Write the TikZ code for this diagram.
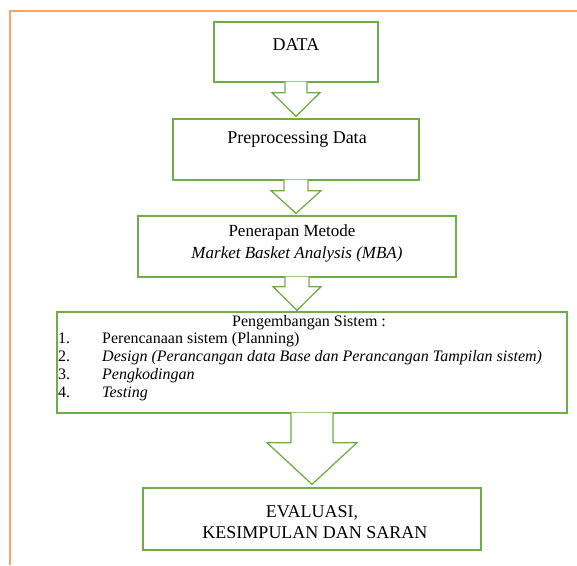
\documentclass[tikz,border=0pt]{standalone}
\usepackage{fontspec}
\setmainfont{Liberation Serif}
\usetikzlibrary{calc}
\definecolor{boxgreen}{RGB}{112,173,71}
\definecolor{frameorange}{RGB}{247,165,100}

\begin{document}
\begin{tikzpicture}[x=1pt,y=-1pt]

     \tikzstyle{box}=[rectangle,draw=boxgreen,line width=1.3pt,inner sep=0pt]
     \tikzstyle{txt}=[inner sep=0pt,anchor=base,font=\fontsize{18}{21}\selectfont]
     \tikzstyle{listtxt}=[inner sep=0pt,anchor=base west,font=\fontsize{16}{18}\selectfont]
     \tikzstyle{blk}=[draw=boxgreen,fill=white,line width=1.3pt,line join=miter]

     \useasboundingbox (0,0) rectangle (577,565);
     \draw[frameorange,line width=2pt] (10,565) -- (10,11) -- (577,11);

      \begin{scope}
         \node[box,minimum width=164pt,minimum height=60pt] (b1) at (296,52) {};
         \node[box,minimum width=246pt,minimum height=61pt] (b2) at (296,149.5) {};
         \node[box,minimum width=318pt,minimum height=61pt] (b3) at (297,246.5) {};
         \node[box,minimum width=510pt,minimum height=101pt] (b4) at (312,362.5) {};
         \node[box,minimum width=338pt,minimum height=62pt] (b5) at (312,519) {};

         \node[txt] (t1) at (296,50) {DATA};
         \node[txt] (t2) at (297,143) {Preprocessing Data};
         \node[txt,font=\fontsize{17}{21}\selectfont] (t3a) at (292,236) {Penerapan Metode};
         \node[txt,font=\fontsize{17}{21}\selectfont] (t3b) at (297,258) {\textit{Market Basket Analysis (MBA)}};
         \node[txt,font=\fontsize{16}{18}\selectfont] (t4) at (309,326) {Pengembangan Sistem :};
         \node[txt] (t5a) at (312,517) {EVALUASI,};
         \node[txt] (t5b) at (315,538) {KESIMPULAN DAN SARAN};

         \foreach \n/\s in {1/{Perencanaan sistem (Planning)},
                            2/{\textit{Design (Perancangan data Base dan Perancangan Tampilan sistem)}},
                            3/{\textit{Pengkodingan}},
                            4/{\textit{Testing}}} {
            \node[listtxt] (n\n) at (58,{324.7+18.3*\n}) {\n.};
            \node[listtxt] (i\n) at (102,{324.7+18.3*\n}) {\s};
         }

         % block arrows between the boxes
         \filldraw[blk] ($(b1.south)+(-11,-1)$) -- ++(0,11) -- ++(-13,0) -- ($(b1.south |- b2.north)+(0,-2)$)
            -- ($(b1.south)+(24,10)$) -- ($(b1.south)+(11,10)$) -- ($(b1.south)+(11,-1)$);
         \filldraw[blk] ($(b2.south)+(-12,-1)$) -- ++(0,11) -- ++(-13,0) -- ($(b2.south |- b3.north)+(0,-2)$)
            -- ($(b2.south)+(25,10)$) -- ($(b2.south)+(12,10)$) -- ($(b2.south)+(12,-1)$);
         \filldraw[blk] ($(b3.south)+(-12,-1)$) -- ++(0,10) -- ++(-12,0) -- ($(b3.south |- b4.north)+(0,-1)$)
            -- ($(b3.south)+(24,9)$) -- ($(b3.south)+(12,9)$) -- ($(b3.south)+(12,-1)$);
         \filldraw[blk] ($(b4.south)+(-21,-1)$) -- ++(0,30) -- ++(-24,0) -- ($(b4.south |- b5.north)+(0,-3)$)
            -- ($(b4.south)+(45,29)$) -- ($(b4.south)+(21,29)$) -- ($(b4.south)+(21,-1)$);

      \end{scope}
  \end{tikzpicture}
\end{document}
